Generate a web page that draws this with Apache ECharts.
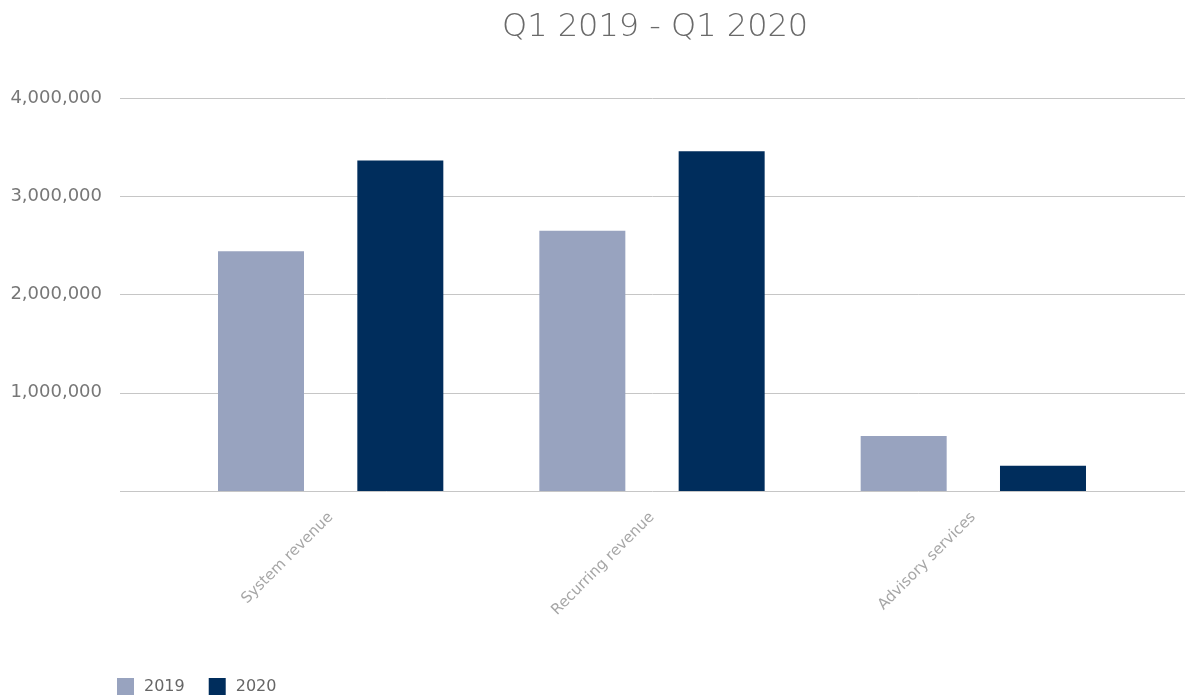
<!DOCTYPE html>
<html>
<head>
<meta charset="utf-8">
<script src="https://cdn.jsdelivr.net/npm/echarts@6/dist/echarts.min.js"></script>
<style>
html,body{margin:0;padding:0;background:#fff;}
#chart{width:1186px;height:697px;}
</style>
</head>
<body>
<div id="chart"></div>
<script>
const title = 'Q1 2019 - Q1 2020';
const categories = ['System revenue', 'Recurring revenue', 'Advisory services'];
const seriesNames = ['2019', '2020'];
const values2019 = [2440000, 2650000, 560000];
const values2020 = [3365000, 3458000, 258000];
const yMin = 0, yMax = 4000000, yStep = 1000000;
const colors = ['#98A3BF', '#002D5C'];

const chart = echarts.init(document.getElementById('chart'));
const font = 'DejaVu Sans';
chart.setOption({
  backgroundColor: '#ffffff',
  animation: false,
  title: {
    text: title, left: 497, top: 7,
    textStyle: {fontFamily: font, fontSize: 32, fontWeight: 200, color: '#6a6a6a'}
  },
  legend: {
    data: seriesNames, left: 112, top: 673, itemWidth: 17, itemHeight: 17, itemGap: 24,
    icon: 'rect',
    textStyle: {fontFamily: font, fontSize: 16, color: '#666', padding: [0, 0, 0, 5]}
  },
  grid: [
    {left: 120, right: 1, top: 98, bottom: 206},
    {left: 170, right: 52, top: 98, bottom: 206}
  ],
  xAxis: [
    {gridIndex: 0, type: 'value', show: false, min: 0, max: 1},
    {gridIndex: 1, type: 'category', data: categories,
     axisLine: {show: false}, axisTick: {show: false},
     axisLabel: {rotate: 45, margin: 24, fontFamily: font, fontSize: 15, color: '#a6a6a6'}}
  ],
  yAxis: [
    {gridIndex: 0, type: 'value', min: yMin, max: yMax, interval: yStep,
     axisLine: {show: false}, axisTick: {show: false},
     splitLine: {lineStyle: {color: '#c6c6c6', width: 1}},
     axisLabel: {margin: 18, fontFamily: font, fontSize: 18, color: '#777',
       formatter: v => v === 0 ? '' : v.toLocaleString('en-US')}},
    {gridIndex: 1, type: 'value', min: yMin, max: yMax, interval: yStep, show: false}
  ],
  series: [
    {name: seriesNames[0], type: 'bar', xAxisIndex: 1, yAxisIndex: 1, data: values2019,
     barWidth: 86, barGap: '62%', itemStyle: {color: colors[0]}},
    {name: seriesNames[1], type: 'bar', xAxisIndex: 1, yAxisIndex: 1, data: values2020,
     barWidth: 86, barGap: '62%', itemStyle: {color: colors[1]}}
  ]
});
</script>
</body>
</html>
